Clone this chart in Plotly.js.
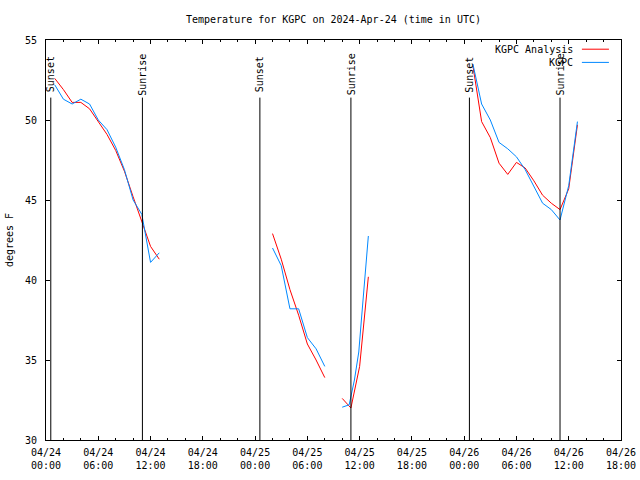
<!DOCTYPE html>
<html>
<head>
<meta charset="utf-8">
<script src="https://cdn.plot.ly/plotly-3.0.1.min.js"></script>
<style>html,body{margin:0;padding:0;background:#fff;}#chart{width:640px;height:480px;}</style>
</head>
<body>
<div id="chart"></div>
<script>
// ---- data ----
const chartTitle = "Temperature for KGPC on 2024-Apr-24 (time in UTC)";
const yTitle = "degrees F";
const seriesNames = ["KGPC Analysis", "KGPC"];

const analysisTimes = [
  "2024-04-24 01:00","2024-04-24 02:00","2024-04-24 03:00","2024-04-24 04:00","2024-04-24 05:00",
  "2024-04-24 06:00","2024-04-24 07:00","2024-04-24 08:00","2024-04-24 09:00","2024-04-24 10:00",
  "2024-04-24 11:00","2024-04-24 12:00","2024-04-24 13:00", null,
  "2024-04-25 02:00","2024-04-25 03:00","2024-04-25 04:00","2024-04-25 05:00","2024-04-25 06:00",
  "2024-04-25 07:00","2024-04-25 08:00", null,
  "2024-04-25 10:00","2024-04-25 11:00","2024-04-25 12:00","2024-04-25 13:00", null,
  "2024-04-26 01:00","2024-04-26 02:00","2024-04-26 03:00","2024-04-26 04:00","2024-04-26 05:00",
  "2024-04-26 06:00","2024-04-26 07:00","2024-04-26 08:00","2024-04-26 09:00","2024-04-26 10:00",
  "2024-04-26 11:00","2024-04-26 12:00","2024-04-26 13:00"
];
const analysisTemps = [
  52.6, 51.9, 51.1, 51.1, 50.7, 49.9, 49.1, 48.1, 46.8, 45.2, 43.7, 42.1, 41.3, null,
  42.9, 41.3, 39.4, 37.8, 36.0, 35.0, 33.9, null,
  32.6, 32.0, 34.6, 40.2, null,
  53.4, 49.9, 48.9, 47.3, 46.6, 47.35, 47.0, 46.2, 45.3, 44.8, 44.4, 45.7, 49.7
];

const obsTimes = [
  "2024-04-24 01:00","2024-04-24 02:00","2024-04-24 03:00","2024-04-24 04:00","2024-04-24 05:00",
  "2024-04-24 06:00","2024-04-24 07:00","2024-04-24 08:00","2024-04-24 09:00","2024-04-24 10:00",
  "2024-04-24 11:00","2024-04-24 12:00","2024-04-24 13:00", null,
  "2024-04-25 02:00","2024-04-25 03:00","2024-04-25 04:00","2024-04-25 05:00","2024-04-25 06:00",
  "2024-04-25 07:00","2024-04-25 08:00", null,
  "2024-04-25 10:00","2024-04-25 10:48","2024-04-25 11:24","2024-04-25 11:54","2024-04-25 12:12",
  "2024-04-25 12:42","2024-04-25 13:00", null,
  "2024-04-26 01:00","2024-04-26 02:00","2024-04-26 03:00","2024-04-26 04:00","2024-04-26 05:00",
  "2024-04-26 06:00","2024-04-26 07:00","2024-04-26 08:00","2024-04-26 09:00","2024-04-26 10:00",
  "2024-04-26 11:00","2024-04-26 12:00","2024-04-26 13:00"
];
const obsTemps = [
  52.2, 51.3, 51.0, 51.3, 51.0, 50.0, 49.4, 48.3, 46.9, 45.0, 44.1, 41.1, 41.7, null,
  42.0, 40.9, 38.2, 38.2, 36.4, 35.7, 34.6, null,
  32.05, 32.2, 33.75, 35.5, 37.5, 40.6, 42.75, null,
  53.5, 51.0, 50.0, 48.6, 48.2, 47.7, 46.9, 45.8, 44.8, 44.4, 43.75, 45.9, 49.9
];

const eventLabels = ["Sunset","Sunrise","Sunset","Sunrise","Sunset","Sunrise"];
const eventTimes = ["2024-04-24 00:33","2024-04-24 11:04","2024-04-25 00:33","2024-04-25 11:00","2024-04-26 00:36","2024-04-26 11:00"];

const xRange = ["2024-04-24 00:00","2024-04-26 18:00"];
const yRange = [30, 55];

// ---- styling ----
const FONT = "DejaVu Sans Mono, monospace";
const RED = "#ff0000";
const BLUE = "#0088ff";
const lineTopY = 51.4;   // top of event lines (data units)
const labelY = 52.85;    // center of rotated event labels

const traces = [
  {x: analysisTimes, y: analysisTemps, name: seriesNames[0], type: "scatter", mode: "lines",
   line: {color: RED, width: 1}, connectgaps: false, hoverinfo: "skip"},
  {x: obsTimes, y: obsTemps, name: seriesNames[1], type: "scatter", mode: "lines",
   line: {color: BLUE, width: 1}, connectgaps: false, hoverinfo: "skip"}
];

const shapes = eventTimes.map(t => ({
  type: "line", xref: "x", yref: "y", x0: t, x1: t, y0: yRange[0], y1: lineTopY,
  line: {color: "#000", width: 1}
}));

const annotations = eventTimes.map((t, i) => ({
  x: t, y: labelY, xref: "x", yref: "y", text: eventLabels[i], showarrow: false,
  textangle: -90, xanchor: "center", yanchor: "middle",
  font: {family: FONT, size: 10, color: "#000"}
}));

// legend drawn gnuplot-style: text right-aligned, sample line to the right
const legRows = [0.977, 0.944];
[RED, BLUE].forEach((c, i) => {
  annotations.push({x: 0.92, y: legRows[i], xref: "paper", yref: "paper", text: seriesNames[i],
    showarrow: false, xanchor: "right", yanchor: "middle",
    font: {family: FONT, size: 10, color: "#000"}});
  shapes.push({type: "line", xref: "paper", yref: "paper", x0: 0.932, x1: 0.979,
    y0: legRows[i], y1: legRows[i], line: {color: c, width: 1}});
});

const layout = {
  width: 640, height: 480,
  margin: {l: 46, r: 19, t: 40, b: 40, pad: 0},
  paper_bgcolor: "#fff", plot_bgcolor: "#fff",
  showlegend: false,
  font: {family: FONT, size: 10, color: "#000"},
  title: {text: chartTitle, x: 0.5, xref: "paper", y: 0.96, yanchor: "middle",
          font: {family: FONT, size: 10, color: "#000"}},
  xaxis: {
    type: "date", range: xRange, showgrid: false, zeroline: false,
    showline: true, linecolor: "#000", linewidth: 1, mirror: "allticks",
    ticks: "inside", ticklen: 4, tickcolor: "#000",
    tick0: "2024-04-24 00:00", dtick: 6 * 3600 * 1000,
    tickformat: "%m/%d<br>%H:%M", ticklabelstandoff: 3,
    minor: {ticks: "inside", ticklen: 2, dtick: 2 * 3600 * 1000, tickcolor: "#000", showgrid: false},
    tickfont: {family: FONT, size: 10, color: "#000"}
  },
  yaxis: {
    range: yRange, showgrid: false, zeroline: false,
    showline: true, linecolor: "#000", linewidth: 1, mirror: "allticks",
    ticks: "inside", ticklen: 4, tickcolor: "#000", dtick: 5, tick0: 30,
    ticklabelstandoff: 6,
    tickfont: {family: FONT, size: 10, color: "#000"},
    title: {text: yTitle, standoff: 9, font: {family: FONT, size: 10, color: "#000"}}
  },
  shapes: shapes,
  annotations: annotations
};

Plotly.newPlot("chart", traces, layout, {staticPlot: true, displayModeBar: false});
</script>
</body>
</html>
